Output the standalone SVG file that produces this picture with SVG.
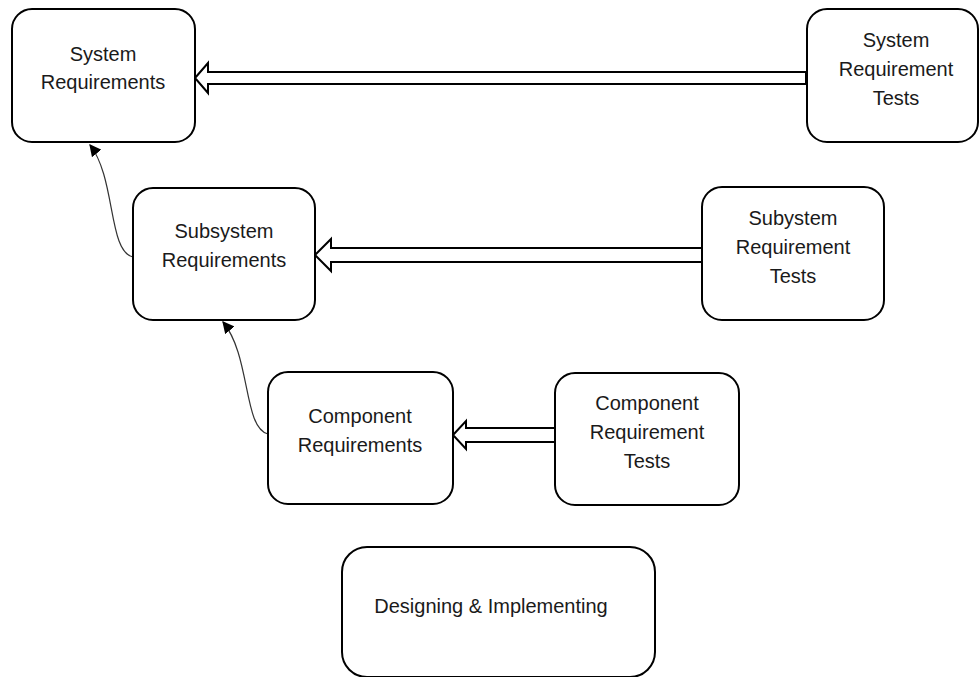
<svg xmlns="http://www.w3.org/2000/svg" width="980" height="677" viewBox="0 0 980 677">
<style>
.box{fill:#fff;stroke:#000;stroke-width:2}
.lbl{font-family:"Liberation Sans",Arial,sans-serif;font-size:20px;fill:#1a1a1a;text-anchor:middle}
.block{fill:#fff;stroke:#000;stroke-width:2;stroke-linejoin:miter}
.curve{fill:none;stroke:#333;stroke-width:1.2}
</style>
<defs>
<marker id="ah" viewBox="0 0 10 10" refX="9" refY="5" markerWidth="12" markerHeight="12" markerUnits="userSpaceOnUse" orient="auto">
<path d="M0,0 L10,5 L0,10 Z" fill="#000"/>
</marker>
</defs>
<rect width="980" height="677" fill="#fff"/>
<g id="connectors">
<polygon class="block" points="195,78 208,63 208,72 806,72 806,84 208,84 208,93"/>
<polygon class="block" points="315,255 331,239 331,248 702,248 702,262 331,262 331,271"/>
<polygon class="block" points="453,435 466,421 466,428 555,428 555,442 466,442 466,449"/>
<path class="curve" d="M133,257 C108,252 116,178 90,145" marker-end="url(#ah)"/>
<path class="curve" d="M268,434 C243,428 251,356 223,322" marker-end="url(#ah)"/>
</g>
<g id="system-requirements">
<rect class="box" x="12" y="9" width="183" height="133" rx="20"/>
<text class="lbl" x="103" y="61">System</text>
<text class="lbl" x="103" y="89">Requirements</text>
</g>
<g id="system-requirement-tests">
<rect class="box" x="807" y="9" width="171" height="133" rx="20"/>
<text class="lbl" x="896" y="47">System</text>
<text class="lbl" x="896" y="76">Requirement</text>
<text class="lbl" x="896" y="105">Tests</text>
</g>
<g id="subsystem-requirements">
<rect class="box" x="133" y="188" width="182" height="132" rx="20"/>
<text class="lbl" x="224" y="238">Subsystem</text>
<text class="lbl" x="224" y="267">Requirements</text>
</g>
<g id="subsystem-requirement-tests">
<rect class="box" x="702" y="187" width="182" height="133" rx="20"/>
<text class="lbl" x="793" y="225">Subystem</text>
<text class="lbl" x="793" y="254">Requirement</text>
<text class="lbl" x="793" y="283">Tests</text>
</g>
<g id="component-requirements">
<rect class="box" x="268" y="372" width="185" height="132" rx="20"/>
<text class="lbl" x="360" y="423">Component</text>
<text class="lbl" x="360" y="452">Requirements</text>
</g>
<g id="component-requirement-tests">
<rect class="box" x="555" y="373" width="184" height="132" rx="20"/>
<text class="lbl" x="647" y="410">Component</text>
<text class="lbl" x="647" y="439">Requirement</text>
<text class="lbl" x="647" y="468">Tests</text>
</g>
<g id="designing-implementing">
<rect class="box" x="342" y="547" width="313" height="130" rx="25"/>
<text class="lbl" x="491" y="613">Designing &amp; Implementing</text>
</g>
</svg>
